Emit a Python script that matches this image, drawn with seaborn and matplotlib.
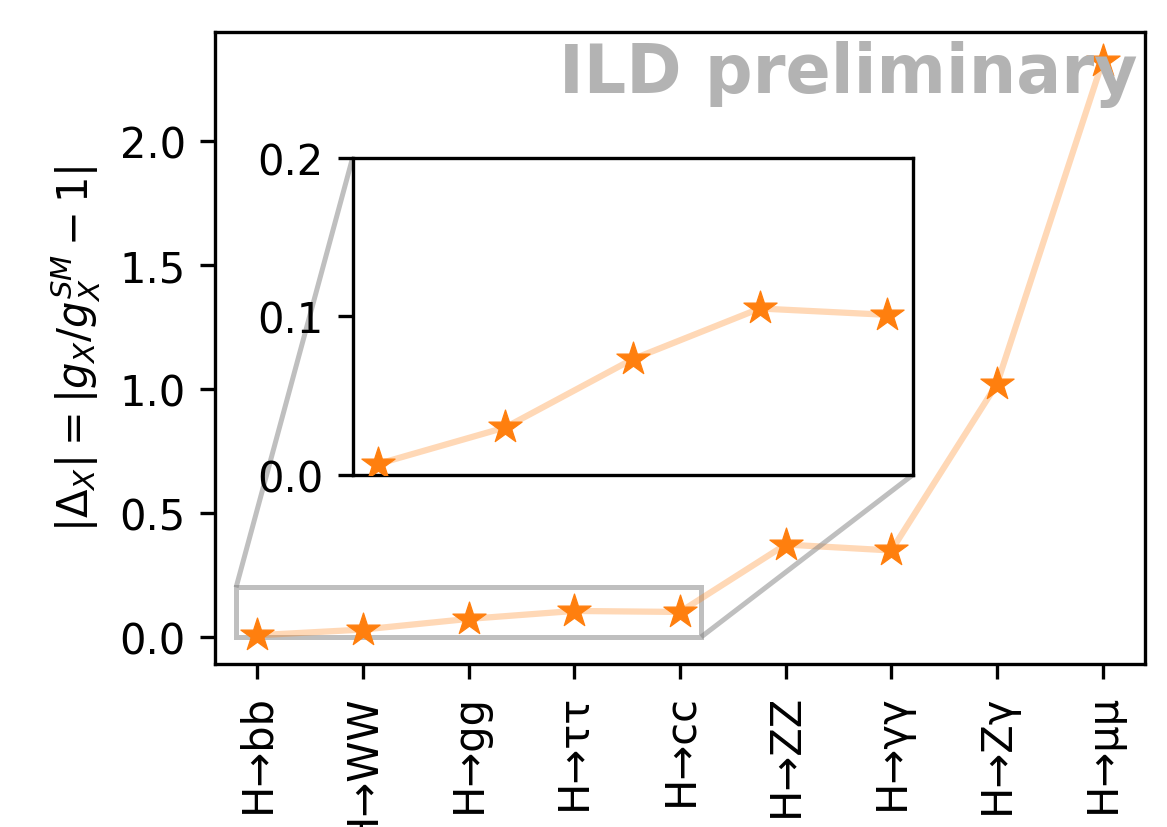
import matplotlib
matplotlib.use("Agg")
import matplotlib.pyplot as plt
import seaborn as sns
import numpy as np
from mpl_toolkits.axes_grid1.inset_locator import mark_inset

# Higgs coupling deviations per decay channel
channels = ["H→bb", "H→WW", "H→gg", "H→ττ", "H→cc", "H→ZZ", "H→γγ", "H→Zγ", "H→μμ"]
deviation = [0.007, 0.030, 0.073, 0.105, 0.101, 0.373, 0.349, 1.022, 2.325]
n_zoom = 5  # channels shown in the zoomed inset

pos = np.arange(len(channels))

fig = plt.figure(figsize=(1167 / 300, 828 / 300), dpi=300)
ax = fig.add_axes([0.1842, 0.1969, 0.9812 - 0.1842, 0.9601 - 0.1969])

color = "#ff7f0e"


def draw(axis, x, y):
    sns.lineplot(x=x, y=y, ax=axis, color=color, alpha=0.3, lw=1.5)
    sns.scatterplot(x=x, y=y, ax=axis, color=color, marker="*", s=70,
                    edgecolor=color, linewidth=0.3, zorder=3)


draw(ax, pos, deviation)
ax.set_xticks(pos)
ax.set_xticklabels(channels, rotation=90)
ax.set_yticks([0.0, 0.5, 1.0, 1.5, 2.0])
ax.set_ylabel(r"$|\Delta_X| = |g_X/g_X^{SM} - 1|$")

ax.text(0.992, 0.988, "ILD preliminary", transform=ax.transAxes,
        ha="right", va="top", fontsize=16, fontweight="bold", color="0.7")

# zoomed view of the most precise channels
axins = ax.inset_axes([0.148, 0.299, 0.602, 0.502])
draw(axins, pos[:n_zoom], deviation[:n_zoom])
axins.set_ylim(0.0, 0.2)
axins.set_yticks([0.0, 0.1, 0.2])
axins.set_xticks([])
mark_inset(ax, axins, loc1=2, loc2=4, fc="none", ec="0.5", alpha=0.5, lw=1.2)

fig.savefig("out.png", dpi=300)
